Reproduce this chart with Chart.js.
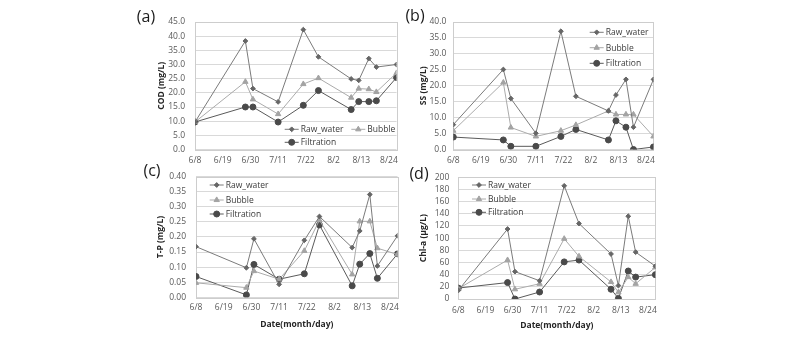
<!DOCTYPE html>
<html>
<head>
<meta charset="utf-8">
<title>Water quality</title>
<script src="https://cdn.jsdelivr.net/npm/chart.js@4/dist/chart.umd.min.js"></script>
<style>
    body { margin: 0; background: #fff; }
    #wrap { position: relative; width: 800px; height: 339px; overflow: hidden; background: #fff; }
    #wrap canvas { position: absolute; }
    .tag { position: absolute; font: 16px "Open Sans", sans-serif; color: #1a1a1a; transform: translate(-50%, -50%); }
</style>
</head>
<body>
<div id="wrap">
    <canvas id="cod" width="264" height="170" style="left:140px; top:0px;"></canvas>
    <canvas id="ss" width="261" height="170" style="left:400px; top:0px;"></canvas>
    <canvas id="tp" width="264" height="179" style="left:140px; top:160px;"></canvas>
    <canvas id="chl" width="263" height="179" style="left:400px; top:160px;"></canvas>
    <div class="tag" style="left:146px; top:16px;">(a)</div>
    <div class="tag" style="left:415px; top:15px;">(b)</div>
    <div class="tag" style="left:152px; top:170px;">(c)</div>
    <div class="tag" style="left:419px; top:173px;">(d)</div>
</div>
<script>
// sampling dates and date axis labels
const sampleDates = ['6/8', '6/28', '7/1', '7/11', '7/21', '7/27', '8/9', '8/12', '8/16', '8/19', '8/27'];
const dateTicks = ['6/8', '6/19', '6/30', '7/11', '7/22', '8/2', '8/13', '8/24'];
const seriesNames = ['Raw_water', 'Bubble', 'Filtration'];

// COD (mg/L)
const codRaw = [9.7, 38.3, 21.5, 16.8, 42.3, 32.7, 24.9, 24.4, 32.1, 29.1, 30.0];
const codBubble = [9.7, 23.9, 17.7, 12.5, 23.1, 25.2, 18.3, 21.5, 21.3, 20.3, 27.0];
const codFiltration = [9.7, 15.0, 15.0, 9.7, 15.6, 20.8, 14.1, 16.9, 16.9, 17.2, 25.4];

// SS (mg/L)
const ssRaw = [7.8, 25.1, 16.0, 5.1, 37.1, 16.7, 12.1, 17.1, 22.0, 7.0, 22.0];
const ssBubble = [5.9, 21.0, 6.9, 4.1, 5.9, 7.7, 12.1, 11.0, 11.0, 11.0, 4.1];
const ssFiltration = [3.9, 3.0, 1.0, 1.0, 4.1, 6.3, 3.0, 9.0, 7.0, 0.0, 0.8];

// T-P (mg/L)
const tpRaw = [0.168, 0.098, 0.194, 0.043, 0.189, 0.268, 0.165, 0.220, 0.341, 0.104, 0.204];
const tpBubble = [0.048, 0.032, 0.087, 0.060, 0.154, 0.256, 0.076, 0.252, 0.252, 0.163, 0.142];
const tpFiltration = [0.069, 0.008, 0.109, 0.060, 0.078, 0.240, 0.038, 0.110, 0.145, 0.063, 0.144];

// Chl-a (ug/L)
const chlRaw = [14, 115, 45, 30, 186, 124, 74, 22, 136, 77, 54];
const chlBubble = [17, 64, 16, 25, 99, 70, 28, 11, 36, 25, 52];
const chlFiltration = [18, 27, 0, 11.5, 61, 64, 16, 1, 46, 36, 40];

const FONT = '"Open Sans", sans-serif';

// line / marker look of each series
const seriesStyles = [
    { line: '#7b7b7b', fill: '#666666', point: 'rectRot', radius: 2.4 },
    { line: '#ababab', fill: '#a3a3a3', point: 'triangle', radius: 3.1 },
    { line: '#5a5a5a', fill: '#4a4a4a', point: 'circle', radius: 3.0 }
];

// days since 6/8
function dayOf(md) {
    const [m, d] = md.split('/').map(Number);
    const monthStart = { 6: 0, 7: 30, 8: 61 };
    return monthStart[m] + d - 8;
}

// light frame around the plot area
const plotFrame = {
    id: 'plotFrame',
    beforeDatasetsDraw(chart) {
        const { ctx, chartArea: a } = chart;
        ctx.save();
        ctx.strokeStyle = '#cdcdcd';
        ctx.lineWidth = 1;
        ctx.strokeRect(Math.round(a.left) + 0.5, Math.round(a.top) + 0.5,
            Math.round(a.right - a.left), Math.round(a.bottom - a.top));
        ctx.restore();
    }
};

// legend drawn inside the plot area, one entry per given spot
const boxLegend = {
    id: 'boxLegend',
    afterDraw(chart, args, opts) {
        const ctx = chart.ctx;
        chart.data.datasets.forEach((ds, i) => {
            const s = opts.spots[i];
            ctx.save();
            ctx.strokeStyle = ds.borderColor;
            ctx.lineWidth = 1;
            ctx.beginPath();
            ctx.moveTo(s.x - 7, s.y);
            ctx.lineTo(s.x + 7, s.y);
            ctx.stroke();
            ctx.fillStyle = ds.pointBackgroundColor;
            ctx.strokeStyle = ds.pointBorderColor;
            Chart.helpers.drawPoint(ctx, {
                pointStyle: ds.pointStyle, radius: ds.pointRadius, rotation: 0, borderWidth: 1
            }, s.x, s.y);
            ctx.fillStyle = '#3a3a3a';
            ctx.font = '8.5px ' + FONT;
            ctx.textBaseline = 'middle';
            ctx.fillText(ds.label, s.x + 9, s.y + 0.5);
            ctx.restore();
        });
    }
};

function makePanel(id, values, cfg) {
    const datasets = values.map((vals, i) => {
        const st = seriesStyles[i];
        return {
            label: seriesNames[i],
            data: vals.map((v, k) => ({ x: dayOf(sampleDates[k]), y: v })),
            borderColor: st.line,
            borderWidth: 1,
            pointStyle: st.point,
            pointRadius: st.radius,
            pointBackgroundColor: st.fill,
            pointBorderColor: st.fill,
            pointBorderWidth: 1,
            tension: 0
        };
    });

    new Chart(document.getElementById(id), {
        type: 'line',
        data: { datasets: datasets },
        plugins: [plotFrame, boxLegend],
        options: {
            responsive: false,
            animation: false,
            devicePixelRatio: 1,
            layout: { padding: { top: cfg.top, right: cfg.right, left: 0, bottom: 0 } },
            plugins: {
                legend: { display: false },
                tooltip: { enabled: false },
                boxLegend: { spots: cfg.legend }
            },
            scales: {
                x: {
                    type: 'linear',
                    min: 0,
                    max: dayOf(sampleDates[sampleDates.length - 1]),
                    afterBuildTicks: s => { s.ticks = dateTicks.map(d => ({ value: dayOf(d) })); },
                    afterFit: s => { s.height = cfg.xHeight; },
                    grid: { display: false, drawTicks: false },
                    border: { display: false },
                    ticks: {
                        autoSkip: false,
                        maxRotation: 0,
                        padding: cfg.xPad,
                        color: '#595959',
                        font: { family: FONT, size: 8.5 },
                        callback: v => dateTicks.find(d => dayOf(d) === v) || ''
                    },
                    title: {
                        display: !!cfg.xTitle,
                        text: cfg.xTitle,
                        color: '#262626',
                        font: { family: FONT, size: 8.5, weight: 'bold' },
                        padding: { top: 0, bottom: cfg.xTitleBottom || 0 }
                    }
                },
                y: {
                    min: 0,
                    max: cfg.yMax,
                    afterFit: s => { s.width = cfg.yWidth; },
                    grid: { color: '#d9d9d9', drawTicks: false },
                    border: { display: false },
                    ticks: {
                        autoSkip: false,
                        stepSize: cfg.yStep,
                        padding: cfg.yPad,
                        color: '#595959',
                        font: { family: FONT, size: 8.5 },
                        callback: v => v.toFixed(cfg.decimals)
                    },
                    title: {
                        display: true,
                        text: cfg.yTitle,
                        color: '#262626',
                        font: { family: FONT, size: 8.5, weight: 'bold' },
                        padding: { top: cfg.yTitleTop, bottom: 0 }
                    }
                }
            }
        }
    });
}

makePanel('cod', [codRaw, codBubble, codFiltration], {
    top: 22, right: 4, xHeight: 20.5, xPad: 6, yWidth: 55, yPad: 10, yTitleTop: 16,
    yMax: 45, yStep: 5, decimals: 1, yTitle: 'COD (mg/L)',
    legend: [{ x: 151.7, y: 129.3 }, { x: 218.3, y: 129.3 }, { x: 151.7, y: 142.3 }]
});

makePanel('ss', [ssRaw, ssBubble, ssFiltration], {
    top: 22, right: 4, xHeight: 20.5, xPad: 6, yWidth: 53.3, yPad: 7, yTitleTop: 18,
    yMax: 40, yStep: 5, decimals: 1, yTitle: 'SS (mg/L)',
    legend: [{ x: 196.7, y: 32.3 }, { x: 196.7, y: 47.7 }, { x: 196.7, y: 63.3 }]
});

makePanel('tp', [tpRaw, tpBubble, tpFiltration], {
    top: 16.7, right: 4, xHeight: 41.7, xPad: 5, yWidth: 56, yPad: 10, yTitleTop: 15,
    yMax: 0.4, yStep: 0.05, decimals: 2, yTitle: 'T-P (mg/L)',
    xTitle: 'Date(month/day)', xTitleBottom: 9,
    legend: [{ x: 76.7, y: 25 }, { x: 76.7, y: 40 }, { x: 76.7, y: 54 }]
});

makePanel('chl', [chlRaw, chlBubble, chlFiltration], {
    top: 17.3, right: 4, xHeight: 40, xPad: 6, yWidth: 58.3, yPad: 9, yTitleTop: 18,
    yMax: 200, yStep: 20, decimals: 0, yTitle: 'Chl-a (\u03bcg/L)',
    xTitle: 'Date(month/day)', xTitleBottom: 8,
    legend: [{ x: 79, y: 25 }, { x: 79, y: 39 }, { x: 79, y: 52.3 }]
});
</script>
</body>
</html>
